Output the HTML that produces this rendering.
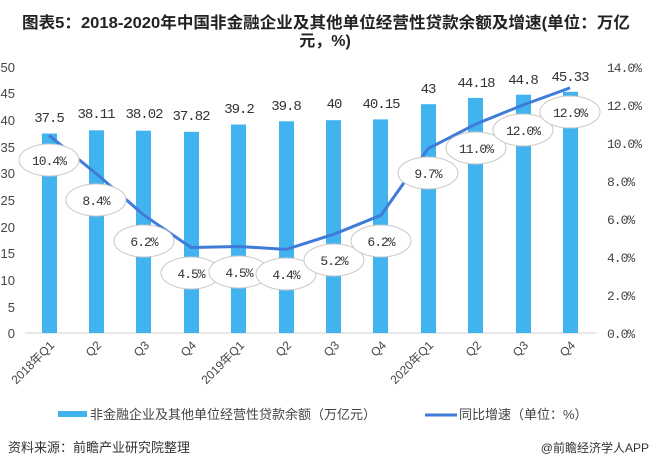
<!DOCTYPE html>
<html><head><meta charset="utf-8"><style>
html,body{margin:0;padding:0;background:#fff;}
svg{display:block;font-family:"Liberation Sans","Noto Sans CJK SC",sans-serif;}
</style></head><body>
<svg width="651" height="469" viewBox="0 0 651 469" xmlns="http://www.w3.org/2000/svg">
<rect width="651" height="469" fill="#fff"/>
<g font-weight="bold" font-size="16" fill="#222" font-family="'Liberation Sans','Noto Sans CJK SC',sans-serif">
<text x="22" y="28" textLength="608" lengthAdjust="spacingAndGlyphs">图表5：2018-2020年中国非金融企业及其他单位经营性贷款余额及增速(单位：万亿</text>
<text x="325" y="46" text-anchor="middle">元，%)</text>
</g>
<g font-size="13" fill="#444" text-anchor="end">
<text x="15" y="72">50</text><text x="15" y="98">45</text><text x="15" y="125">40</text>
<text x="15" y="152">35</text><text x="15" y="178">30</text><text x="15" y="205">25</text>
<text x="15" y="232">20</text><text x="15" y="258">15</text><text x="15" y="285">10</text>
<text x="15" y="312">5</text><text x="15" y="338">0</text>
</g>
<line x1="25" y1="333" x2="596" y2="333" stroke="#d0d0d0" stroke-width="1"/>
<g fill="#41b4f0">
<rect x="42" y="133.5" width="15" height="199.5"/>
<rect x="89" y="130.3" width="15" height="202.7"/>
<rect x="136" y="130.7" width="15" height="202.3"/>
<rect x="184" y="131.8" width="15" height="201.2"/>
<rect x="231" y="124.5" width="15" height="208.5"/>
<rect x="279" y="121.3" width="15" height="211.7"/>
<rect x="326" y="120.2" width="15" height="212.8"/>
<rect x="373" y="119.4" width="15" height="213.6"/>
<rect x="421" y="104.2" width="15" height="228.8"/>
<rect x="468" y="97.9" width="15" height="235.1"/>
<rect x="516" y="94.7" width="15" height="238.3"/>
<rect x="563" y="91.8" width="15" height="241.2"/>
</g>
<g font-size="14" fill="#333" text-anchor="middle" font-family="'Liberation Mono','DejaVu Sans Mono',monospace" letter-spacing="-1">
<text x="49" y="122">37.5</text>
<text x="96" y="118">38.11</text>
<text x="144" y="118">38.02</text>
<text x="191" y="120">37.82</text>
<text x="239" y="113">39.2</text>
<text x="286" y="110">39.8</text>
<text x="334" y="108">40</text>
<text x="381" y="108">40.15</text>
<text x="428" y="93">43</text>
<text x="476" y="87">44.18</text>
<text x="523" y="84">44.8</text>
<text x="570" y="81">45.33</text>
</g>
<polyline fill="none" stroke="#3f7bd8" stroke-width="3" stroke-linejoin="round" points="49,135.4 96,173.4 144,215.2 191,247.5 239,246.5 286,249.4 334,234.2 381,215.2 428,148.7 476,124 523,105 570,87.9"/>
<g fill="#fff" stroke="#c8c8c8" stroke-width="1">
<ellipse cx="49" cy="160" rx="30" ry="16"/>
<ellipse cx="96" cy="200" rx="30" ry="16"/>
<ellipse cx="144" cy="241" rx="30" ry="16"/>
<ellipse cx="191" cy="273" rx="30" ry="16"/>
<ellipse cx="239" cy="272" rx="30" ry="16"/>
<ellipse cx="286" cy="274" rx="30" ry="16"/>
<ellipse cx="334" cy="260" rx="30" ry="16"/>
<ellipse cx="381" cy="241" rx="30" ry="16"/>
<ellipse cx="428" cy="173" rx="30" ry="16"/>
<ellipse cx="476" cy="148" rx="30" ry="16"/>
<ellipse cx="523" cy="130" rx="30" ry="16"/>
<ellipse cx="570" cy="112" rx="30" ry="16"/>
</g>
<g font-size="13" fill="#333" text-anchor="middle" font-family="'Liberation Mono','DejaVu Sans Mono',monospace" letter-spacing="-1">
<text x="49" y="165">10.4%</text>
<text x="96" y="205">8.4%</text>
<text x="144" y="246">6.2%</text>
<text x="191" y="278">4.5%</text>
<text x="239" y="277">4.5%</text>
<text x="286" y="279">4.4%</text>
<text x="334" y="265">5.2%</text>
<text x="381" y="246">6.2%</text>
<text x="428" y="178">9.7%</text>
<text x="476" y="153">11.0%</text>
<text x="523" y="135">12.0%</text>
<text x="570" y="117">12.9%</text>
</g>
<g font-size="13" fill="#444" font-family="'Liberation Mono','DejaVu Sans Mono',monospace" letter-spacing="-1">
<text x="607" y="72">14.0%</text><text x="607" y="110">12.0%</text><text x="607" y="148">10.0%</text>
<text x="607" y="186">8.0%</text><text x="607" y="224">6.0%</text><text x="607" y="262">4.0%</text>
<text x="607" y="300">2.0%</text><text x="607" y="338">0.0%</text>
</g>
<g font-size="12" fill="#444" text-anchor="end">
<text transform="translate(55,346) rotate(-45)">2018年Q1</text>
<text transform="translate(102,346) rotate(-45)">Q2</text>
<text transform="translate(150,346) rotate(-45)">Q3</text>
<text transform="translate(197,346) rotate(-45)">Q4</text>
<text transform="translate(245,346) rotate(-45)">2019年Q1</text>
<text transform="translate(292,346) rotate(-45)">Q2</text>
<text transform="translate(340,346) rotate(-45)">Q3</text>
<text transform="translate(387,346) rotate(-45)">Q4</text>
<text transform="translate(434,346) rotate(-45)">2020年Q1</text>
<text transform="translate(482,346) rotate(-45)">Q2</text>
<text transform="translate(529,346) rotate(-45)">Q3</text>
<text transform="translate(576,346) rotate(-45)">Q4</text>
</g>
<rect x="58" y="411" width="29" height="6" fill="#41b4f0"/>
<text x="90" y="419" font-size="13" fill="#444">非金融企业及其他单位经营性贷款余额（万亿元）</text>
<line x1="425" y1="415" x2="457" y2="415" stroke="#3f7bd8" stroke-width="3"/>
<text x="459" y="419" font-size="13" fill="#444">同比增速（单位：%）</text>
<text x="8" y="452" font-size="13" fill="#333">资料来源：前瞻产业研究院整理</text>
<text x="649" y="452" font-size="12" fill="#333" text-anchor="end">@前瞻经济学人APP</text>
</svg>
</body></html>
